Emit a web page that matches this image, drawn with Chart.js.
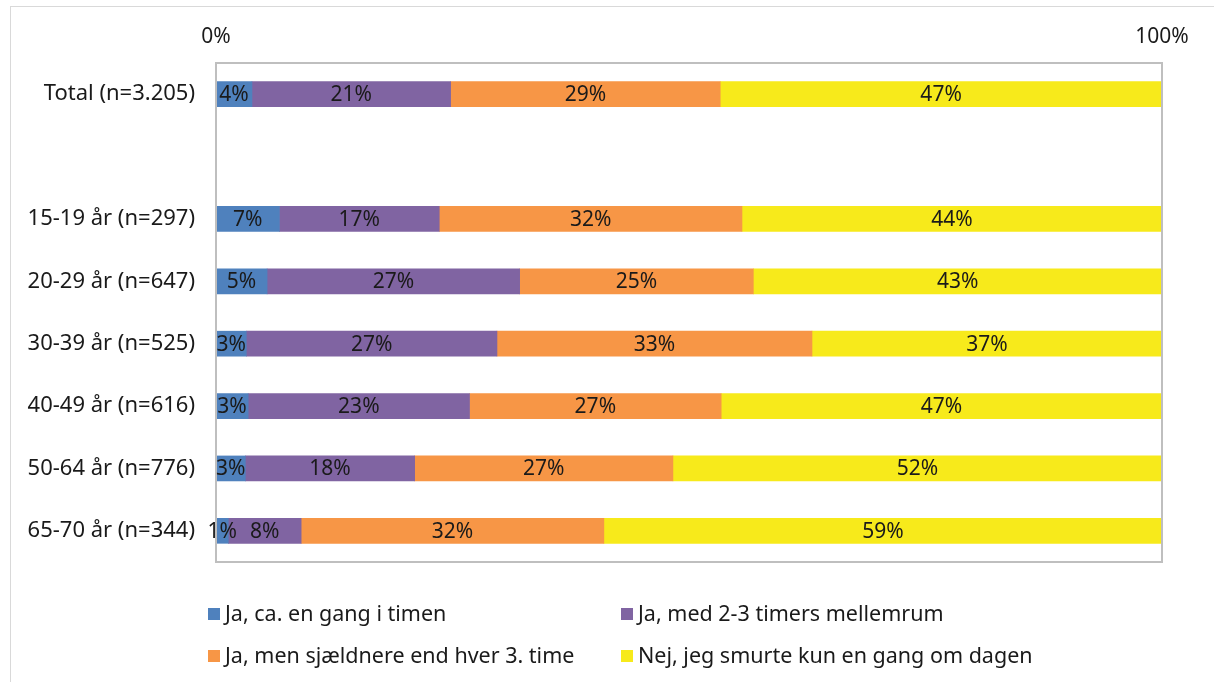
<!DOCTYPE html>
<html>
<head>
<meta charset="utf-8">
<script src="https://cdn.jsdelivr.net/npm/chart.js@4"></script>
<style>
  body { margin: 0; background: #fff; font-family: "Noto Sans", sans-serif; }
  #wrap { position: relative; width: 1214px; height: 682px; overflow: hidden; }
  #frame { position: absolute; left: 10px; top: 6px; right: -2px; bottom: -2px; border: 1px solid #d9d9d9; }
  canvas { position: absolute; left: 0; top: 0; }
  .leg { position: absolute; font-size: 21.5px; color: #1a1a1a; white-space: nowrap; line-height: 24px; }
  .leg span { display: inline-block; width: 12px; height: 12px; margin-right: 5px; vertical-align: 1px; }
</style>
</head>
<body>
<div id="wrap">
  <div id="frame"></div>
  <canvas id="c" width="1214" height="682"></canvas>
  <div id="legend"></div>
</div>
<script>
// kategorie (pusty wiersz = odstep po Total)
const categories = ["Total (n=3.205)", "", "15-19 år (n=297)", "20-29 år (n=647)", "30-39 år (n=525)",
  "40-49 år (n=616)", "50-64 år (n=776)", "65-70 år (n=344)"];

const seriesNames = ["Ja, ca. en gang i timen", "Ja, med 2-3 timers mellemrum",
  "Ja, men sjældnere end hver 3. time", "Nej, jeg smurte kun en gang om dagen"];
const seriesColors = ["#4f81bd", "#8064a2", "#f79646", "#f7ea1b"];

const hourly   = [3.8, null, 6.7, 5.4, 3.2, 3.4, 3.1, 1.3];
const every2_3 = [21.0, null, 16.9, 26.7, 26.5, 23.4, 17.9, 7.7];
const rarer    = [28.5, null, 32.0, 24.7, 33.3, 26.6, 27.3, 32.0];
const onceDay  = [46.7, null, 44.4, 43.2, 37.0, 46.6, 51.7, 59.0];

const tickLabels = { 0: "0%", 100: "100%" };

const allSeries = [hourly, every2_3, rarer, onceDay];
const FONT = 21;

const datasets = allSeries.map((d, i) => ({
  label: seriesNames[i],
  data: d,
  backgroundColor: seriesColors[i],
  borderWidth: 0,
  barThickness: 25
}));

// ramka wokol obszaru wykresu + etykiety na slupkach
const boxAndLabels = {
  id: 'boxAndLabels',
  afterDatasetsDraw(chart) {
    const ctx = chart.ctx;
    const a = chart.chartArea;
    ctx.save();
    ctx.strokeStyle = '#bfbfbf';
    ctx.lineWidth = 2;
    ctx.strokeRect(a.left, a.top, a.right - a.left, a.bottom - a.top);

    ctx.font = FONT + 'px "Noto Sans"';
    ctx.fillStyle = '#1a1a1a';
    ctx.textAlign = 'center';
    ctx.textBaseline = 'middle';
    chart.data.datasets.forEach((ds, di) => {
      chart.getDatasetMeta(di).data.forEach((bar, i) => {
        const v = ds.data[i];
        if (v == null) return;
        const mid = (bar.x + bar.base) / 2;
        ctx.fillText(Math.round(v) + '%', mid, bar.y + 1);
      });
    });
    ctx.restore();
  }
};

new Chart(document.getElementById('c'), {
  type: 'bar',
  data: { labels: categories, datasets },
  options: {
    indexAxis: 'y',
    responsive: false,
    animation: false,
    layout: { padding: { left: 0, right: 52, top: 0, bottom: 120 } },
    plugins: { legend: { display: false }, tooltip: { enabled: false } },
    scales: {
      x: {
        position: 'top',
        stacked: true,
        min: 0, max: 100,
        grid: { display: false, drawTicks: false },
        border: { display: false },
        afterFit: s => { s.height = 63; },
        afterBuildTicks: s => { s.ticks = [{ value: 0 }, { value: 100 }]; },
        ticks: {
          padding: 13,
          color: '#1a1a1a',
          font: { family: 'Noto Sans', size: FONT },
          callback: v => tickLabels[v]
        }
      },
      y: {
        stacked: true,
        grid: { display: false, drawTicks: false },
        border: { display: false },
        afterFit: s => { s.width = 216; },
        ticks: {
          padding: 21,
          color: '#1a1a1a',
          font: { family: 'Noto Sans', size: 22 }
        }
      }
    }
  },
  plugins: [boxAndLabels]
});

// legenda w dwoch kolumnach
const legPos = [[208, 601], [621, 601], [208, 643], [621, 643]];
const legDiv = document.getElementById('legend');
seriesNames.forEach((n, i) => {
  const el = document.createElement('div');
  el.className = 'leg';
  el.style.left = legPos[i][0] + 'px';
  el.style.top = legPos[i][1] + 'px';
  el.innerHTML = `<span style="background:${seriesColors[i]}"></span>${n}`;
  legDiv.appendChild(el);
});
</script>
</body>
</html>
